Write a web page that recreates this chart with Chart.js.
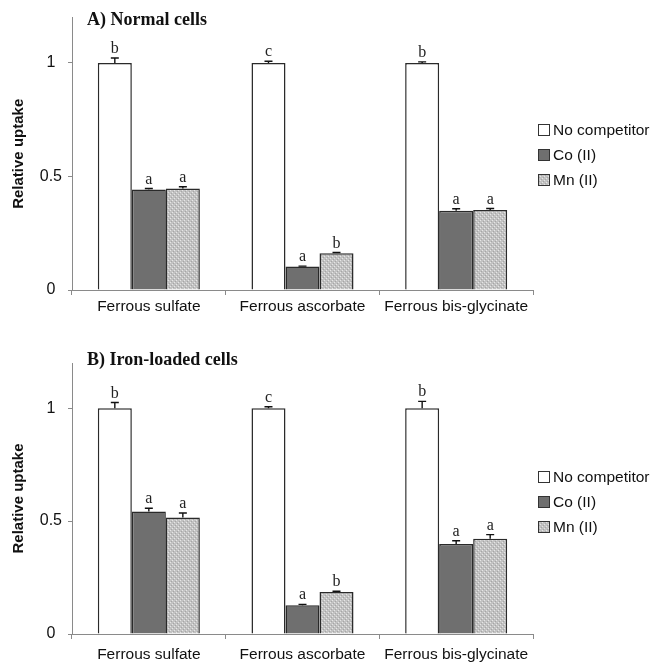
<!DOCTYPE html>
<html>
<head>
<meta charset="utf-8">
<script src="https://cdn.jsdelivr.net/npm/chart.js@4/dist/chart.umd.min.js"></script>
<style>
html,body{margin:0;padding:0;background:#fff;}
#wrap{position:relative;width:653px;height:664px;overflow:hidden;background:#fff;}
canvas{position:absolute;left:0;}
</style>
</head>
<body>
<div id="wrap">
<canvas id="chartA" width="653" height="320" style="top:0px"></canvas>
<canvas id="chartB" width="653" height="344" style="top:320px"></canvas>
</div>
<script>
// ---- data ----
const categories = ['Ferrous sulfate', 'Ferrous ascorbate', 'Ferrous bis-glycinate'];
const seriesNames = ['No competitor', 'Co (II)', 'Mn (II)'];
const yTicks = [0, 0.5, 1];
const yTickLabels = ['0', '0.5', '1'];
const yMax = 1.2;

const panelTitles = ['A) Normal cells', 'B) Iron-loaded cells'];

const normalNone = [1.0, 1.0, 1.0];
const normalCo   = [0.443, 0.103, 0.349];
const normalMn   = [0.447, 0.162, 0.352];
const normalNoneErr = [0.022, 0.008, 0.005];
const normalCoErr   = [0.004, 0.002, 0.009];
const normalMnErr   = [0.008, 0.003, 0.007];
const normalNoneLetters = ['b', 'c', 'b'];
const normalCoLetters   = ['a', 'a', 'a'];
const normalMnLetters   = ['a', 'b', 'a'];

const ironNone = [1.0, 1.0, 1.0];
const ironCo   = [0.542, 0.127, 0.398];
const ironMn   = [0.516, 0.186, 0.422];
const ironNoneErr = [0.025, 0.006, 0.030];
const ironCoErr   = [0.015, 0.004, 0.015];
const ironMnErr   = [0.020, 0.003, 0.018];
const ironNoneLetters = ['b', 'c', 'b'];
const ironCoLetters   = ['a', 'a', 'a'];
const ironMnLetters   = ['a', 'b', 'a'];

// ---- styles ----
function makeHatch() {
  const c = document.createElement('canvas');
  c.width = 4; c.height = 4;
  const g = c.getContext('2d');
  g.fillStyle = '#c2c2c2';
  g.fillRect(0, 0, 4, 4);
  g.fillStyle = '#e6e6e6';
  g.fillRect(0, 0, 1, 1);
  g.fillRect(2, 2, 1, 1);
  g.fillStyle = '#a6a6a6';
  g.fillRect(1, 3, 1, 1);
  g.fillRect(3, 1, 1, 1);
  return c.getContext('2d').createPattern(c, 'repeat');
}
const hatch = makeHatch();
const fills = ['#ffffff', '#6f6f6f', hatch];
const SANS = '"Liberation Sans", Arial, sans-serif';
const SERIF = '"Liberation Serif", "Times New Roman", serif';

const annotPlugin = {
  id: 'annot',
  afterDatasetsDraw(chart, args, opts) {
    const ctx = chart.ctx;
    const y = chart.scales.y;
    ctx.save();
    chart.data.datasets.forEach((ds, di) => {
      const meta = chart.getDatasetMeta(di);
      meta.data.forEach((bar, i) => {
        const top = y.getPixelForValue(ds.data[i] + ds.errors[i]);
        const base = y.getPixelForValue(ds.data[i]);
        ctx.strokeStyle = '#111';
        ctx.lineWidth = 1.4;
        ctx.beginPath();
        ctx.moveTo(bar.x, base);
        ctx.lineTo(bar.x, top);
        ctx.moveTo(bar.x - 4, top);
        ctx.lineTo(bar.x + 4, top);
        ctx.stroke();
        ctx.fillStyle = '#222';
        ctx.font = '16px ' + SERIF;
        ctx.textAlign = 'center';
        ctx.textBaseline = 'alphabetic';
        ctx.fillText(ds.letters[i], bar.x, top - 5);
      });
    });
    // panel title
    ctx.fillStyle = '#111';
    ctx.font = 'bold 18px ' + SERIF;
    ctx.textAlign = 'left';
    ctx.textBaseline = 'middle';
    ctx.fillText(opts.title, 87, opts.titleY);
    // legend
    ctx.font = '15.5px ' + SANS;
    chart.data.datasets.forEach((ds, di) => {
      const cy = opts.legendTop + di * 25;
      ctx.fillStyle = ds.backgroundColor;
      ctx.fillRect(538, cy - 6, 12, 12);
      ctx.strokeStyle = '#333';
      ctx.lineWidth = 1;
      ctx.strokeRect(538.5, cy - 5.5, 11, 11);
      ctx.fillStyle = '#111';
      ctx.textBaseline = 'middle';
      ctx.fillText(ds.label, 553, cy + 1);
    });
    ctx.restore();
  }
};

function makeChart(id, vals, errs, letters, title, titleY, legendTop, padTop, xPad) {
  const datasets = seriesNames.map((name, k) => ({
    label: name,
    data: vals[k],
    errors: errs[k],
    letters: letters[k],
    backgroundColor: fills[k],
    borderColor: '#2a2a2a',
    borderWidth: 1.5,
    borderSkipped: 'bottom',
    barPercentage: 1.0,
    categoryPercentage: 0.664
  }));
  return new Chart(document.getElementById(id), {
    type: 'bar',
    data: { labels: categories, datasets },
    plugins: [annotPlugin],
    options: {
      responsive: false,
      animation: false,
      devicePixelRatio: 1,
      layout: { padding: { top: padTop, right: 120, bottom: 0, left: 0 } },
      plugins: {
        legend: { display: false },
        tooltip: { enabled: false },
        annot: { title, titleY, legendTop }
      },
      scales: {
        x: {
          afterFit: s => { s.height = 30; },
          border: { color: '#8a8a8a', width: 1 },
          grid: { drawOnChartArea: false, tickLength: 5, color: '#8a8a8a', offset: true },
          ticks: { color: '#111', font: { family: SANS, size: 15.5 }, padding: xPad, maxRotation: 0 }
        },
        y: {
          min: 0, max: yMax,
          afterFit: s => { s.width = 72; },
          afterBuildTicks: s => { s.ticks = yTicks.map(v => ({ value: v })); },
          border: { color: '#8a8a8a', width: 1 },
          grid: { drawOnChartArea: false, tickLength: 4, color: '#8a8a8a' },
          ticks: {
            color: '#111', font: { family: SANS, size: 16 }, padding: 6, crossAlign: 'center',
            callback: (v, i) => yTickLabels[yTicks.indexOf(v)]
          },
          title: { display: true, text: 'Relative uptake', color: '#111', font: { family: SANS, size: 15, weight: 'bold' }, padding: { top: 10, bottom: 0 } }
        }
      }
    }
  });
}

makeChart('chartA', [normalNone, normalCo, normalMn], [normalNoneErr, normalCoErr, normalMnErr],
  [normalNoneLetters, normalCoLetters, normalMnLetters], panelTitles[0], 20, 130, 17.6, 2);
makeChart('chartB', [ironNone, ironCo, ironMn], [ironNoneErr, ironCoErr, ironMnErr],
  [ironNoneLetters, ironCoLetters, ironMnLetters], panelTitles[1], 40, 157, 43, 6);
</script>
</body>
</html>
